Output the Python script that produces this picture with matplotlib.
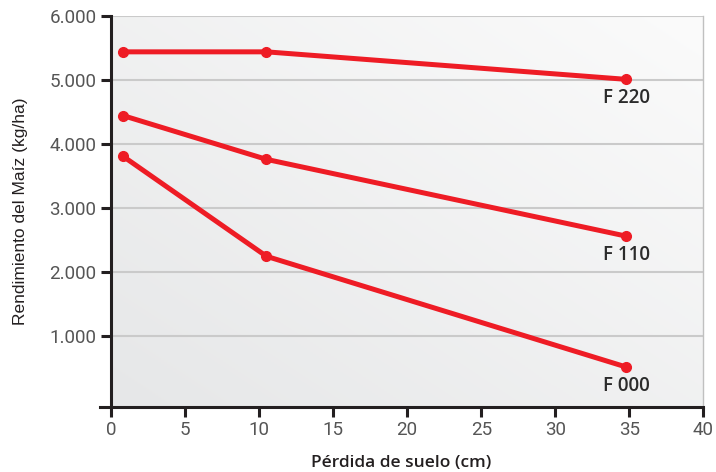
import numpy as np
import matplotlib
matplotlib.use("Agg")
import matplotlib.pyplot as plt

# values
perdida = [0.8, 10.5, 34.8]          # soil loss (cm)
f220 = [5440, 5440, 5010]            # maize yield (kg/ha)
f110 = [4445, 3760, 2560]
f000 = [3810, 2245, 515]
series = {"F 220": f220, "F 110": f110, "F 000": f000}

xticks = [0, 5, 10, 15, 20, 25, 30, 35, 40]
yticks = [1000, 2000, 3000, 4000, 5000, 6000]
ylabels = ["1.000", "2.000", "3.000", "4.000", "5.000", "6.000"]

red = "#ee1c25"
dark = "#231f20"

fig = plt.figure(figsize=(7.16, 4.72), dpi=100)
ax = fig.add_axes([0.1397, 0.1383, 0.8426, 0.8278])
ax.set_xlim(-0.74, 40)
ax.set_ylim(-105, 6000)

# diagonal gray gradient behind the plot area
gx, gy = np.meshgrid(np.linspace(0, 1, 200), np.linspace(0, 1, 200))
grad = (gx + gy) / 2
ax.imshow(grad, extent=[0, 40, -105, 6000], origin="lower", aspect="auto",
          cmap=matplotlib.colors.LinearSegmentedColormap.from_list(
              "bg", ["#e6e7e8", "#fbfbfb"]), zorder=0)

for y in yticks:
    ax.plot([0, 40], [y, y], color="#cacaca", lw=1.5, zorder=1)

for name, vals in series.items():
    ax.plot(perdida, vals, color=red, lw=3.6, marker="o", ms=7,
            solid_capstyle="round", zorder=3, clip_on=False)
    ax.annotate(name, (perdida[-1], vals[-1]), xytext=(0, -6.5),
                textcoords="offset points", ha="center", va="top",
                fontsize=13.5, color="#2b2b2b", family="Open Sans",
                fontweight="semibold")

ax.spines["top"].set_visible(False)
ax.spines["right"].set_color("#c0c0c0")
ax.spines["right"].set_linewidth(1)
ax.spines["left"].set_position(("data", 0))
for s in ("left", "bottom"):
    ax.spines[s].set_color(dark)
    ax.spines[s].set_linewidth(2.2)

ax.set_xticks(xticks)
ax.set_xticklabels([str(t) for t in xticks])
ax.set_yticks(yticks)
ax.set_yticklabels(ylabels)
ax.tick_params(direction="out", length=7.5, width=2.2, color=dark,
               labelsize=13.5, labelcolor="#555555", pad=3)
for lab in ax.get_xticklabels() + ax.get_yticklabels():
    lab.set_family("Roboto")

ax.set_xlabel("Pérdida de suelo (cm)", family="Open Sans",
              fontweight="semibold", fontsize=12.5, color=dark, labelpad=11)
ax.set_ylabel("Rendimiento del Maíz (kg/ha)", family="Liberation Sans",
              fontsize=12.5, color=dark, labelpad=15)

fig.savefig("out.png", dpi=100)
